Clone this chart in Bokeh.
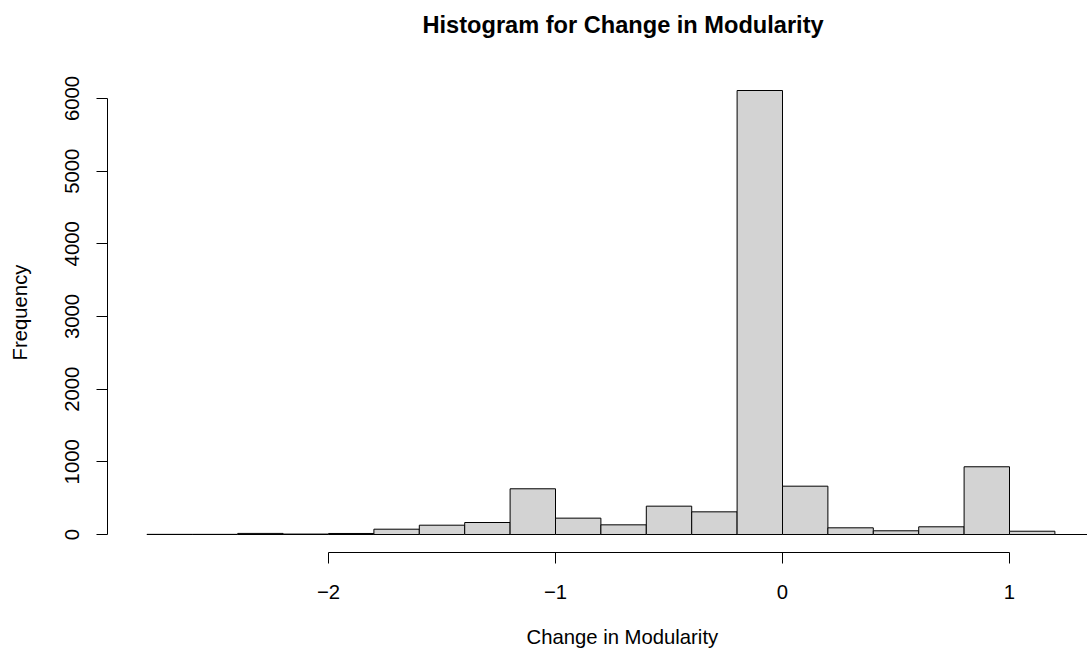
from bokeh.plotting import figure
from bokeh.models import (ColumnDataSource, FixedTicker, Range1d, Title,
                          CustomJSTickFormatter)
from bokeh.embed import file_html
from bokeh.resources import INLINE

# ---- data ----
breaks = [-2.8, -2.6, -2.4, -2.2, -2.0, -1.8, -1.6, -1.4, -1.2, -1.0, -0.8,
          -0.6, -0.4, -0.2, 0.0, 0.2, 0.4, 0.6, 0.8, 1.0, 1.2, 1.4]
counts = [2, 2, 15, 6, 14, 73, 128, 165, 629, 225, 133,
          390, 312, 6110, 665, 92, 51, 106, 932, 45, 0]
x_ticks = [-2, -1, 0, 1]
y_ticks = [0, 1000, 2000, 3000, 4000, 5000, 6000]
title_text = "Histogram for Change in Modularity"
x_label = "Change in Modularity"
y_label = "Frequency"

FONT = "Liberation Sans"
FS = "20.3px"

src = ColumnDataSource(dict(
    left=breaks[:-1], right=breaks[1:],
    top=counts, bottom=[0] * len(counts)))

p = figure(width=1087, height=651,
           x_range=Range1d(-2.9736, 1.3436),
           y_range=Range1d(-247.7, 6357.8),
           output_backend="svg", toolbar_location=None,
           min_border_left=107, min_border_right=0,
           min_border_top=72, min_border_bottom=99)
p.outline_line_color = None
p.grid.visible = False
p.background_fill_color = "white"
p.border_fill_color = "white"

p.quad(left="left", right="right", top="top", bottom="bottom", source=src,
       fill_color="#D3D3D3", line_color="black", line_width=1)

# x axis
xa = p.xaxis[0]
xa.ticker = FixedTicker(ticks=x_ticks)
xa.bounds = (min(x_ticks), max(x_ticks))
xa.formatter = CustomJSTickFormatter(
    code="return tick < 0 ? '\u2212' + Math.abs(tick) : tick.toString();")
xa.major_tick_out = 11
xa.major_tick_in = 0
xa.minor_tick_out = 0
xa.minor_tick_in = 0
xa.axis_line_color = "black"
xa.major_tick_line_color = "black"
xa.major_label_text_font = FONT
xa.major_label_text_font_size = FS
xa.major_label_text_color = "black"
xa.major_label_standoff = 21

# y axis
ya = p.yaxis[0]
ya.ticker = FixedTicker(ticks=y_ticks)
ya.bounds = (min(y_ticks), max(y_ticks))
ya.major_tick_out = 11
ya.major_tick_in = 0
ya.minor_tick_out = 0
ya.minor_tick_in = 0
ya.axis_line_color = "black"
ya.major_tick_line_color = "black"
ya.major_label_orientation = "vertical"
ya.major_label_text_font = FONT
ya.major_label_text_font_size = FS
ya.major_label_text_color = "black"
ya.major_label_standoff = 17
ya.axis_label = y_label
ya.axis_label_text_font = FONT
ya.axis_label_text_font_size = FS
ya.axis_label_text_font_style = "normal"
ya.axis_label_text_color = "black"
ya.axis_label_standoff = 32

# x-axis title below the axis (spacer first, then the text)
p.add_layout(Title(text=" ", text_font_size="1px", standoff=21), "below")
p.add_layout(Title(text=x_label, align="left", offset=419,
                   vertical_align="top", standoff=0,
                   text_font=FONT, text_font_style="normal",
                   text_font_size=FS, text_color="black"), "below")

# spacer panel between frame and main title, then main title
p.add_layout(Title(text=" ", text_font_size="1px", standoff=32), "above")
p.add_layout(Title(text=title_text, align="left", offset=315,
                   vertical_align="bottom", standoff=0,
                   text_font=FONT, text_font_style="bold",
                   text_font_size="23.6px", text_color="black"), "above")

open("out.html", "w").write(file_html(p, INLINE))
